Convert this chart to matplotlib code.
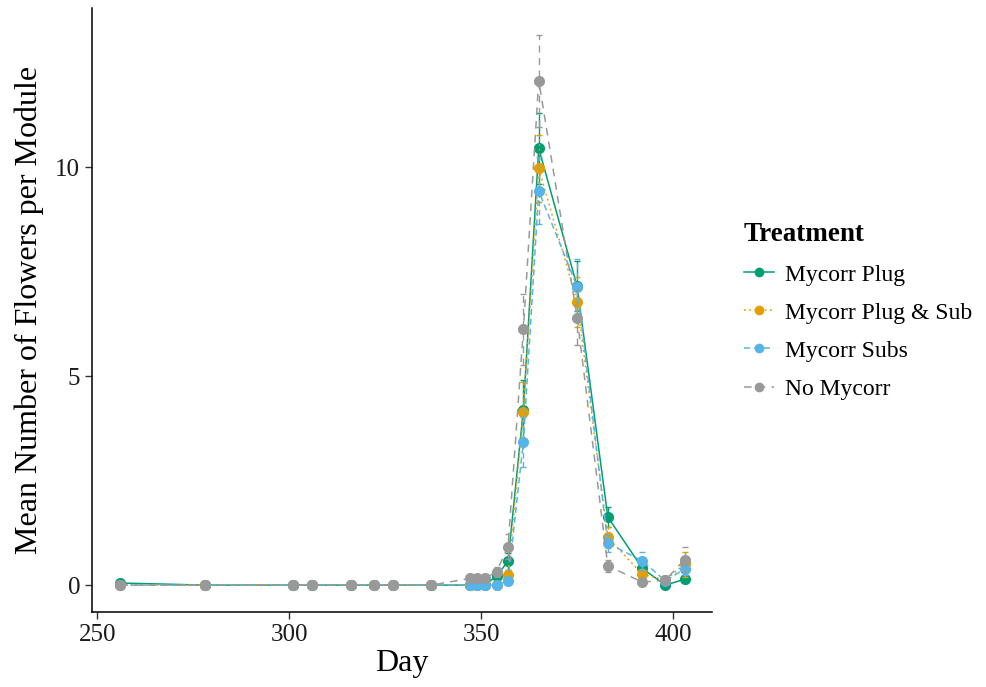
import numpy as np
import matplotlib
matplotlib.use('Agg')
import matplotlib.pyplot as plt
from matplotlib.lines import Line2D

plt.rcParams['font.family'] = ['Liberation Serif', 'DejaVu Serif']

# sampling days
days = [256, 278, 301, 306, 316, 322, 327, 337, 347, 349, 351, 354, 357, 361, 365, 375, 383, 392, 398, 403]

treatments = ['Mycorr Plug', 'Mycorr Plug & Sub', 'Mycorr Subs', 'No Mycorr']

plug_mean = [0.05, 0, 0, 0, 0, 0, 0, 0, 0, 0, 0, 0.22, 0.57, 4.2, 10.45, 7.15, 1.63, 0.40, 0.0, 0.14]
plug_se = [0.05, 0, 0, 0, 0, 0, 0, 0, 0, 0, 0, 0.1, 0.2, 0.7, 0.85, 0.6, 0.25, 0.15, 0.03, 0.08]

plugsub_mean = [0, 0, 0, 0, 0, 0, 0, 0, 0, 0, 0, 0, 0.23, 4.15, 9.97, 6.78, 1.14, 0.26, 0.12, 0.50]
plugsub_se = [0, 0, 0, 0, 0, 0, 0, 0, 0, 0, 0, 0, 0.12, 0.7, 0.8, 0.6, 0.25, 0.12, 0.1, 0.3]

subs_mean = [0, 0, 0, 0, 0, 0, 0, 0, 0, 0, 0, 0, 0.10, 3.43, 9.43, 7.14, 1.00, 0.58, 0.10, 0.39]
subs_se = [0, 0, 0, 0, 0, 0, 0, 0, 0, 0, 0, 0, 0.06, 0.6, 0.8, 0.65, 0.2, 0.22, 0.08, 0.15]

nomyc_mean = [0, 0, 0, 0, 0, 0, 0, 0, 0.16, 0.16, 0.16, 0.32, 0.92, 6.12, 12.07, 6.40, 0.46, 0.07, 0.12, 0.61]
nomyc_se = [0, 0, 0, 0, 0, 0, 0, 0, 0.08, 0.08, 0.08, 0.12, 0.3, 0.85, 1.1, 0.65, 0.15, 0.05, 0.1, 0.3]

means = [plug_mean, plugsub_mean, subs_mean, nomyc_mean]
ses = [plug_se, plugsub_se, subs_se, nomyc_se]

colors = ['#009E73', '#E69F00', '#56B4E9', '#999999']
styles = ['-', (0, (1.2, 2.2)), (0, (4, 2.5)), (0, (5, 4))]

fig = plt.figure(figsize=(9.87, 6.87), dpi=100)
ax = fig.add_axes([0.0932, 0.109, 0.628, 0.879])

for i in range(len(treatments)):
    m = np.array(means[i])
    s = np.array(ses[i])
    eb = ax.errorbar(days, m, yerr=s, color=colors[i], linestyle=styles[i],
                     linewidth=1.1, marker='o', markersize=7, elinewidth=1.0,
                     capsize=2.5, capthick=1.0, zorder=2 + i)
    for bar in eb[2]:
        bar.set_linestyle(styles[i])

ax.set_xlim(248.6, 410.1)
ax.set_ylim(-0.646, 13.8)
ax.set_xticks([250, 300, 350, 400])
ax.set_yticks([0, 5, 10])
ax.tick_params(axis='both', labelsize=18, length=5, width=1, color='#333333', labelcolor='#1a1a1a')

ax.spines['top'].set_visible(False)
ax.spines['right'].set_visible(False)
ax.spines['left'].set_linewidth(1.1)
ax.spines['bottom'].set_linewidth(1.1)

ax.set_xlabel('Day', fontsize=23, labelpad=2)
ax.set_ylabel('Mean Number of Flowers per Module', fontsize=23, labelpad=8)

handles = [Line2D([], [], color=colors[i], linestyle=styles[i], linewidth=1.1,
                  marker='o', markersize=6) for i in range(len(treatments))]
leg = fig.legend(handles, treatments, loc='upper left', bbox_to_anchor=(0.744, 0.69),
                 frameon=False, fontsize=17, title='Treatment', handlelength=1.3,
                 handletextpad=0.45, labelspacing=0.7, borderaxespad=0)
leg.get_title().set_fontweight('bold')
leg.get_title().set_fontsize(19.5)
leg._legend_box.align = 'left'
leg._legend_box.sep = 12

fig.savefig('out.png', dpi=100)
